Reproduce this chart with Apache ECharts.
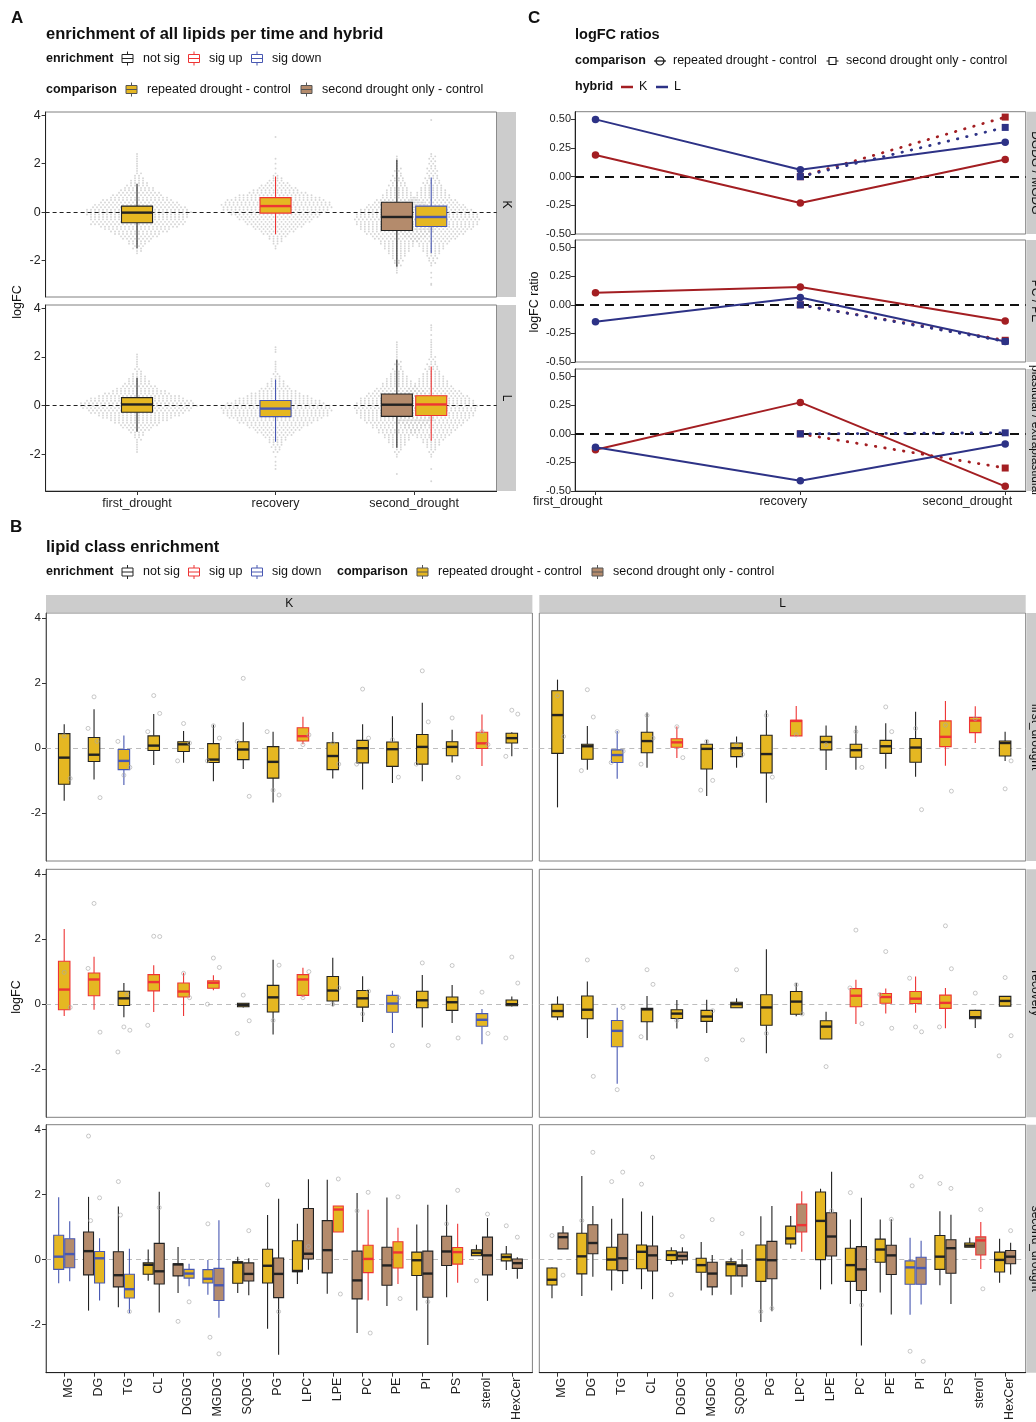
<!DOCTYPE html>
<html lang="en">
<head>
<meta charset="UTF-8">
<title>lipid enrichment</title>
<script src="https://cdn.jsdelivr.net/npm/echarts@6/dist/echarts.min.js"></script>
<style>
  html, body { margin: 0; padding: 0; background: #fff; }
  #main { width: 1036px; height: 1422px; }
</style>
</head>
<body>
<div id="main"></div>
<script>
var FONT = '"Liberation Sans", Arial, Helvetica, sans-serif';
var YELLOW = '#E5B722', BROWN = '#B48B6C';
var SIG_COL = ['#222222', '#EE3434', '#4858B2'];   // not sig, sig up, sig down
var COMP_COL = [YELLOW, BROWN];                      // repeated drought, second drought only
var K_COL = '#A31E22', L_COL = '#2D3286';
var STRIP = '#CCCCCC', BORDER = '#808080';

// ---------------- panel A ----------------
var timePoints = ['first_drought', 'recovery', 'second_drought'];
// [low whisker, Q1, median, Q3, high whisker]
var aK_rep = [[-1.49, -0.44, -0.02, 0.25, 1.17], [-0.91, -0.04, 0.25, 0.60, 1.47], [-1.69, -0.59, -0.20, 0.25, 1.43]];
var aK_rep_sig = [0, 1, 2];
var aK_only = [-2.25, -0.76, -0.20, 0.41, 2.16];
var aK_only_sig = 0;
var aL_rep = [[-1.07, -0.27, 0.05, 0.33, 1.15], [-1.48, -0.45, -0.12, 0.21, 1.07], [-1.44, -0.40, 0.05, 0.41, 1.61]];
var aL_rep_sig = [0, 2, 1];
var aL_only = [-1.73, -0.44, 0.04, 0.48, 1.88];
var aL_only_sig = 0;

// beeswarm: [first bin, points per 0.1 logFC row, single points]
var swK_first = [-1.7, [1,2,3,3,5,6,8,10,12,15, 17,20,24,24,24,25,26,27,26,24, 22,20,18,15,13,11,9,8,6,5, 4,3,2,2,1,1,1,1,1,1,1,1], []];
var swK_recov = [-1.5, [1,1,2,3,4,5,7,9,11,13, 15,17,19,21,23,25,27,28,28,27, 25,22,19,15,12,10,8,6,4,3, 2,1], [1.8, 2.0, 2.2, 3.1]];
var swK_second = [-2.2, [1,2,2,3,3,4,5,6,7,8, 10,12,14,16,18,20,22,23,24,24, 24,23,22,20,18,16,14,12,10,9, 8,7,6,5,5,4,4,3,3,3, 3,2,2,2,2,2,1], [-3.0, -2.95, -2.7, -2.5, 3.8]];
var swK_only = [-2.5, [1,1,1,2,2,3,3,4,5,6, 7,8,9,10,12,14,16,18,19,20, 21,22,22,22,21,20,19,17,15,13, 11,9,8,7,6,5,5,4,4,3, 3,2,2,2,1,1,1,1,1], []];
var swL_first = [-1.9, [1,1,1,1,1,2,2,3,4,6, 8,10,12,15,18,21,24,26,28,30, 29,27,24,21,17,14,11,9,7,6, 5,4,3,2,2,1,1,1,1,1,1], []];
var swL_recov = [-1.9, [2,2,3,3,4,5,6,8,10,12, 14,16,19,21,24,26,27,28,28,27, 25,22,19,16,13,10,8,6,5,4, 3,2,2,1,1,1,1,1], [-2.6, -2.45, -2.3, -2.1, 2.2, 2.3, 2.4]];
var swL_second = [-2.1, [1,1,2,2,3,4,5,6,8,9, 11,12,14,15,17,18,20,21,22,22, 23,23,22,21,20,18,16,14,12,10, 9,8,7,6,5,4,4,3,3,2, 2,2,1,1,1,1,1,1,1], [-3.1, -2.6, 2.9, 3.1, 3.2, 3.3]];
var swL_only = [-2.1, [1,1,2,2,3,4,5,6,7,8, 10,11,13,14,16,18,19,20,21,22, 22,22,21,20,19,17,15,13,11,9, 8,7,6,5,4,3,3,2,2,2, 1,1,1,1,1,1,1,1], [-2.8]];

// ---------------- panel C ----------------
var ratioPanels = ['DGDG / MGDG', 'PC / PE', 'plastidial / extraplastidial'];
var cDG_K = [0.19, -0.23, 0.15], cDG_L = [0.50, 0.06, 0.30];
var cDG_K_only = [0, 0.52], cDG_L_only = [0, 0.43];
var cPC_K = [0.106, 0.156, -0.141], cPC_L = [-0.147, 0.065, -0.32];
var cPC_K_only = [0, -0.31], cPC_L_only = [0, -0.32];
var cPl_K = [-0.139, 0.275, -0.459], cPl_L = [-0.118, -0.411, -0.089];
var cPl_K_only = [0, -0.299], cPl_L_only = [0, 0.009];

// ---------------- panel B ----------------
var lipidClasses = ['MG','DG','TG','CL','DGDG','MGDG','SQDG','PG','LPC','LPE','PC','PE','PI','PS','sterol','HexCer'];
var b1K = [[-1.63,-1.12,-0.30,0.44,0.73],[-0.97,-0.42,-0.21,0.32,1.19],[-1.14,-0.67,-0.40,-0.05,0.38],[-0.53,-0.08,0.07,0.37,1.04],
  [-0.46,-0.11,0.11,0.19,0.52],[-1.03,-0.45,-0.36,0.13,0.71],[-0.65,-0.36,-0.05,0.19,0.79],[-1.68,-0.93,-0.43,0.04,0.50],
  [0.11,0.21,0.36,0.62,0.96],[-0.94,-0.67,-0.25,0.16,0.49],[-1.28,-0.46,-0.01,0.23,0.73],[-1.08,-0.57,-0.04,0.18,0.97],
  [-1.03,-0.50,0.03,0.41,1.39],[-0.45,-0.24,0.03,0.19,0.56],[-0.56,-0.02,0.14,0.48,1.03],[-0.26,0.15,0.30,0.45,0.48]];
var b1K_sig = [0,0,2,0,0,0,0,0,1,0,0,0,0,0,1,0];
var b1L = [[-1.83,-0.17,1.01,1.76,2.10],[-0.67,-0.35,0.05,0.11,0.67],[-0.95,-0.45,-0.22,-0.06,0.52],[-0.61,-0.15,0.21,0.48,1.09],
  [-0.31,0.02,0.17,0.28,0.66],[-1.48,-0.65,-0.03,0.11,0.24],[-0.61,-0.27,-0.01,0.15,0.35],[-1.69,-0.77,-0.19,0.39,1.16],
  [0.37,0.37,0.83,0.85,1.29],[-0.68,-0.06,0.18,0.36,0.69],[-0.67,-0.29,-0.07,0.11,0.68],[-0.64,-0.17,0.05,0.23,0.76],
  [-0.89,-0.44,0.01,0.29,1.11],[-0.55,0.04,0.34,0.83,1.44],[0.15,0.47,0.84,0.94,1.28],[-0.40,-0.25,0.15,0.21,0.50]];
var b1L_sig = [0,0,2,0,1,0,0,0,1,0,0,0,0,1,1,0];
var b2K = [[-0.36,-0.17,0.45,1.32,2.31],[-0.17,0.26,0.76,0.96,1.46],[-0.40,-0.04,0.18,0.40,0.65],[-0.24,0.41,0.68,0.91,1.20],
  [-0.36,0.22,0.39,0.65,0.97],[0.43,0.49,0.66,0.72,0.89],[-0.10,-0.08,-0.02,0.03,0.03],[-0.93,-0.24,0.21,0.58,1.37],
  [0.21,0.27,0.76,0.91,1.12],[-0.06,0.10,0.42,0.85,1.43],[-0.55,-0.09,0.18,0.42,0.86],[-0.89,-0.25,0.02,0.27,0.41],
  [-0.72,-0.11,0.12,0.40,0.90],[-0.58,-0.19,0.06,0.22,0.59],[-1.23,-0.68,-0.48,-0.29,-0.15],[-0.07,-0.05,0.00,0.13,0.24]];
var b2K_sig = [1,1,0,1,1,1,0,0,1,0,0,2,0,0,2,0];
var b2L = [[-0.49,-0.39,-0.21,0.00,0.24],[-1.04,-0.45,-0.17,0.25,0.70],[-2.45,-1.31,-0.82,-0.50,-0.11],[-1.11,-0.54,-0.16,-0.13,0.25],
  [-0.75,-0.44,-0.29,-0.17,0.13],[-0.89,-0.53,-0.38,-0.19,0.14],[-0.11,-0.11,0.00,0.06,0.18],[-1.51,-0.65,-0.10,0.29,1.69],
  [-0.37,-0.31,0.08,0.39,0.65],[-1.07,-1.07,-0.69,-0.51,-0.23],[-0.61,-0.08,0.26,0.48,0.75],[-0.29,0.03,0.22,0.33,0.48],
  [-0.26,0.02,0.17,0.39,0.85],[-0.74,-0.13,0.04,0.28,0.50],[-0.73,-0.45,-0.40,-0.19,-0.17],[-0.06,-0.06,0.10,0.24,0.24]];
var b2L_sig = [0,0,2,0,0,0,0,0,0,0,1,1,1,1,0,0];
var b3K_rep = [[-0.73,-0.30,0.09,0.75,1.92],[-1.26,-0.72,0.04,0.25,0.66],[-1.64,-1.18,-0.91,-0.45,0.33],[-0.65,-0.45,-0.16,-0.10,0.31],
  [-0.82,-0.57,-0.43,-0.30,-0.13],[-1.08,-0.72,-0.59,-0.31,-0.01],[-1.03,-0.73,-0.09,-0.07,0.09],[-2.13,-0.72,-0.19,0.32,1.37],
  [-0.75,-0.37,-0.35,0.58,1.10],[0.85,0.85,1.54,1.65,1.65],[-1.26,-0.40,0.02,0.44,1.53],[-0.75,-0.26,0.22,0.55,0.98],
  [-1.57,-0.49,-0.02,0.23,1.08],[-0.71,-0.14,0.23,0.37,1.10],[0.12,0.12,0.21,0.30,0.46],[-0.32,-0.04,0.08,0.17,0.42]];
var b3K_rep_sig = [2,2,2,0,2,2,0,0,0,1,1,1,0,1,0,0];
var b3K_only = [[-0.67,-0.25,0.17,0.64,1.18],[-1.57,-0.47,0.26,0.85,1.93],[-1.47,-0.84,-0.48,0.24,1.63],[-1.63,-0.75,-0.36,0.50,2.09],
  [-1.03,-0.50,-0.15,-0.13,0.39],[-1.79,-1.26,-0.79,-0.27,1.21],[-1.10,-0.66,-0.44,-0.10,0.04],[-2.93,-1.17,-0.44,0.05,1.87],
  [-0.31,0.02,0.18,1.57,2.47],[-1.05,-0.41,0.29,1.20,2.46],[-2.26,-1.21,-0.64,0.26,2.05],[-1.43,-0.79,-0.18,0.38,1.91],
  [-2.63,-1.16,-0.43,0.26,1.69],[-1.16,-0.18,0.25,0.72,1.69],[-1.27,-0.47,0.13,0.69,1.28],[-0.59,-0.27,-0.11,0.02,0.07]];
var b3K_only_sig = [2,0,0,0,0,2,0,0,0,0,0,0,0,0,0,0];
var b3L_rep = [[-1.19,-0.78,-0.62,-0.26,-0.24],[-1.12,-0.44,0.10,0.81,2.57],[-0.95,-0.32,0.00,0.38,1.26],[-0.91,-0.28,0.24,0.45,1.48],
  [-0.15,-0.03,0.14,0.27,0.38],[-0.95,-0.39,-0.17,0.04,0.54],[-1.08,-0.50,-0.14,-0.07,0.06],[-1.92,-0.67,0.00,0.45,1.33],
  [0.34,0.48,0.65,1.03,1.34],[-0.92,0.00,1.19,2.08,2.18],[-1.37,-0.67,-0.17,0.35,1.23],[-1.01,-0.08,0.31,0.63,1.23],
  [-1.70,-0.76,-0.24,-0.04,0.67],[-0.79,-0.30,0.09,0.74,1.49],[0.38,0.38,0.43,0.51,0.67],[-0.71,-0.38,-0.01,0.23,0.64]];
var b3L_rep_sig = [0,0,0,0,0,0,0,0,0,0,0,0,2,0,0,0];
var b3L_only = [[0.33,0.33,0.69,0.82,1.03],[-0.53,0.18,0.51,1.07,1.65],[-0.75,-0.34,0.04,0.78,1.89],[-1.22,-0.35,0.13,0.42,1.35],
  [-0.15,-0.01,0.11,0.23,0.38],[-1.10,-0.84,-0.43,-0.08,0.14],[-0.85,-0.50,-0.19,-0.17,0.32],[-1.59,-0.59,-0.02,0.56,1.65],
  [0.24,0.85,1.06,1.71,2.10],[-0.76,0.11,0.71,1.44,2.70],[-2.64,-0.95,-0.30,0.40,1.90],[-1.69,-0.46,0.13,0.44,1.24],
  [-1.38,-0.76,-0.26,0.07,0.58],[-1.37,-0.42,0.35,0.61,1.38],[-0.29,0.14,0.59,0.70,1.16],[-0.46,-0.13,0.09,0.28,0.52]];
var b3L_only_sig = [0,0,0,0,0,0,0,0,1,0,0,0,2,0,1,0];

// individual lipids: [class index, logFC]  (rows 1-2) / [class index, comparison, logFC] (row 3)
var p1K = [[0,0.37],[0,-0.94],[1,1.57],[1,-1.53],[1,0.6],[1,0.2],[2,-0.84],[2,-0.6],[2,0.2],[3,1.61],[3,1.06],[3,0.5],[4,0.75],[4,0.15],[4,-0.4],
  [5,0.68],[5,0.3],[5,-0.4],[6,2.14],[6,-1.49],[6,0.2],[7,-1.3],[7,-1.45],[7,0.5],[8,0.1],[8,0.4],[9,0.15],[9,-0.5],[10,1.81],[10,0.3],[10,-0.5],
  [11,0.25],[11,-0.9],[12,2.37],[12,0.8],[12,-0.5],[13,0.92],[13,-0.91],[14,0.5],[14,0.1],[15,1.16],[15,1.04],[15,-0.26]];
var p1L = [[0,1.6],[0,0.35],[1,1.79],[1,0.95],[1,-0.7],[2,0.5],[2,-0.1],[2,-0.45],[3,1.0],[3,0.3],[3,-0.5],[4,0.65],[4,-0.3],[5,0.2],[5,-1.0],
  [5,-1.3],[6,0.1],[6,-0.2],[7,1.0],[7,-0.9],[8,0.4],[9,0.1],[10,0.5],[10,-0.6],[11,1.26],[11,0.5],[12,0.6],[12,-1.9],[13,0.7],[13,-1.33],
  [14,0.9],[15,-1.26],[15,-0.4]];
var p2K = [[0,0.98],[0,-0.1],[1,3.1],[1,-0.86],[1,1.1],[2,-0.7],[2,-0.8],[2,-1.47],[2,0.3],[3,2.09],[3,2.08],[3,-0.65],[4,0.95],[4,0.2],
  [5,1.42],[5,1.13],[5,0.0],[6,0.28],[6,-0.51],[6,-0.9],[7,-0.5],[7,1.2],[8,0.2],[8,1.0],[9,0.0],[9,0.5],[10,-0.3],[10,0.4],[11,-1.27],[11,0.2],
  [12,1.27],[12,-1.27],[13,1.19],[13,-1.04],[14,0.37],[14,-0.9],[15,1.45],[15,0.65],[15,-1.04]];
var p2L = [[1,1.36],[1,-2.22],[2,-2.63],[2,-0.1],[3,1.06],[3,0.61],[3,-1.0],[4,-0.5],[5,-1.7],[5,-0.2],[6,1.06],[6,-1.1],[7,-0.9],[8,0.6],
  [8,-0.3],[9,-1.92],[10,2.28],[10,-0.6],[10,0.5],[11,1.62],[11,-0.74],[11,0.3],[12,-0.7],[12,-0.85],[12,0.8],[13,2.41],[13,1.09],[13,-0.7],
  [14,0.34],[15,0.82],[15,-0.97],[15,-1.59]];
var p3K = [[1,1,3.8],[1,0,1.9],[1,1,1.2],[2,1,2.4],[2,1,1.37],[2,0,-1.6],[3,1,1.6],[4,1,-1.9],[4,0,-1.3],[5,0,1.1],[5,0,-2.39],[5,1,-2.9],
  [6,1,0.89],[7,0,2.3],[7,1,-1.6],[8,1,0.4],[9,0,2.48],[9,0,-1.06],[10,0,2.07],[10,0,-2.26],[10,1,1.5],[11,0,1.93],[11,0,-1.2],[12,1,-1.3],
  [13,0,2.13],[13,1,1.1],[14,0,-0.65],[14,1,1.4],[15,0,1.04],[15,1,0.69]];
var p3L = [[0,0,0.74],[0,1,-0.48],[1,1,3.3],[1,0,1.2],[2,0,2.4],[2,1,2.69],[3,0,2.32],[3,1,3.15],[4,1,0.71],[4,0,-1.08],[5,1,1.23],[6,1,0.8],
  [7,0,-1.6],[7,1,-1.5],[9,1,1.5],[10,0,2.06],[10,1,-1.4],[11,1,1.24],[12,0,-2.82],[12,0,2.27],[12,1,2.55],[12,1,-3.13],[13,0,2.34],
  [13,1,2.19],[14,1,1.54],[14,1,-0.9],[15,1,0.89]];

// ================= building =================
var grids = [], xAxes = [], yAxes = [], series = [], graphics = [];

function addGrid(l, t, w, h) {
  grids.push({left: l, top: t, width: w, height: h, show: true, borderColor: BORDER, borderWidth: 1,
    backgroundColor: '#fff', containLabel: false, outerBoundsMode: 'none'});
  return grids.length - 1;
}
function valAxis(gi, min, max, ticks, labels, fmt, o) {
  o = o || {};
  var show = !!labels;
  var lab = {show: show, fontSize: o.size || 12, color: '#222', fontFamily: FONT, margin: o.margin || 5, formatter: fmt};
  if (labels) lab.customValues = labels;
  if (o.rotate) lab.rotate = o.rotate;
  if (o.align) lab.align = o.align;
  return {gridIndex: gi, type: 'value', min: min, max: max, splitLine: {show: false},
    axisLine: {show: show || !!o.line, onZero: false, lineStyle: {color: o.lineColor || '#222', width: 1}},
    axisTick: {show: show, customValues: ticks, length: 4, lineStyle: {color: '#333'}},
    axisLabel: lab};
}
function zeroLine(color, width, dash, z) {
  return {silent: true, symbol: ['none', 'none'], z: z, label: {show: false}, emphasis: {disabled: true},
    lineStyle: {color: color, width: width, type: dash}, data: [{yAxis: 0}], animation: false};
}
function boxRender(params, api) {
  var x = api.value(0);
  var lo = api.coord([x, api.value(1)]), q1 = api.coord([x, api.value(2)]), md = api.coord([x, api.value(3)]);
  var q3 = api.coord([x, api.value(4)]), hi = api.coord([x, api.value(5)]);
  var stroke = SIG_COL[api.value(6)], fill = COMP_COL[api.value(7)];
  var w = api.size([api.value(8), 0])[0];
  var cx = lo[0];
  return {type: 'group', children: [
    {type: 'line', shape: {x1: cx, y1: hi[1], x2: cx, y2: q3[1]}, style: {stroke: stroke, lineWidth: 1.1}},
    {type: 'line', shape: {x1: cx, y1: q1[1], x2: cx, y2: lo[1]}, style: {stroke: stroke, lineWidth: 1.1}},
    {type: 'rect', shape: {x: cx - w / 2, y: q3[1], width: w, height: Math.max(q1[1] - q3[1], 1)},
      style: {fill: fill, stroke: stroke, lineWidth: 1.1}},
    {type: 'line', shape: {x1: cx - w / 2, y1: md[1], x2: cx + w / 2, y2: md[1]}, style: {stroke: stroke, lineWidth: 2.4}}
  ]};
}
function boxSeries(gi, data) {
  return {type: 'custom', xAxisIndex: gi, yAxisIndex: gi, z: 3, silent: true, renderItem: boxRender,
    encode: {x: 0, y: [1, 2, 3, 4, 5]}, data: data};
}
// rep box goes left when its (enrichment, comparison) sorts first
function repSide(sigRep, sigOnly) { return sigRep <= sigOnly ? -1 : 1; }

function swarm(out, cx, sw, pitch) {
  var from = sw[0], counts = sw[1];
  counts.forEach(function (n, i) {
    var v = +(from + i * 0.1).toFixed(2);
    var shift = (n > 1 && i % 2) ? pitch / 2 : 0;
    for (var j = 0; j < n; j++) out.push([cx + (j - (n - 1) / 2) * pitch + shift, v]);
  });
  sw[2].forEach(function (v) { out.push([cx, v]); });
}

// ---- panel A grids ----
var A_DODGE = 0.124, A_BOXW = 0.224, A_PITCH = 4.0 / 138.5;
var aDefs = [
  {top: 112, h: 185, rep: aK_rep, repSig: aK_rep_sig, only: aK_only, onlySig: aK_only_sig, sw: [swK_first, swK_recov, swK_second], swOnly: swK_only},
  {top: 305, h: 186, rep: aL_rep, repSig: aL_rep_sig, only: aL_only, onlySig: aL_only_sig, sw: [swL_first, swL_recov, swL_second], swOnly: swL_only}
];
aDefs.forEach(function (d, k) {
  var gi = addGrid(45.6, d.top, 451, d.h);
  var bottom = k === 1;
  xAxes.push(valAxis(gi, 0.34, 3.596, [1, 2, 3], bottom ? [1, 2, 3] : null,
    function (v) { return timePoints[Math.round(v) - 1]; }, {size: 12.5, margin: 6}));
  yAxes.push(valAxis(gi, -3.5, 4.13, [-2, 0, 2, 4], [-2, 0, 2, 4], null, {size: 12.5}));
  var side = repSide(d.repSig[2], d.onlySig);
  var boxes = [], dots = [];
  for (var t = 0; t < 3; t++) {
    var x = t + 1 + (t === 2 ? side * A_DODGE : 0);
    boxes.push([x].concat(d.rep[t], [d.repSig[t], 0, A_BOXW]));
    swarm(dots, x, d.sw[t], A_PITCH);
  }
  var xo = 3 - side * A_DODGE;
  boxes.push([xo].concat(d.only, [d.onlySig, 1, A_BOXW]));
  swarm(dots, xo, d.swOnly, A_PITCH);
  series.push({type: 'scatter', xAxisIndex: gi, yAxisIndex: gi, z: 1, silent: true, symbolSize: 1.9,
    progressive: 0, itemStyle: {color: '#CACACA'}, data: dots,
    markLine: zeroLine('#222', 1, [4, 3], 2)});
  series.push(boxSeries(gi, boxes));
});

// ---- panel C grids ----
var cDefs = [
  {top: 111.7, h: 122.3, K: cDG_K, L: cDG_L, Ko: cDG_K_only, Lo: cDG_L_only},
  {top: 240, h: 122, K: cPC_K, L: cPC_L, Ko: cPC_K_only, Lo: cPC_L_only},
  {top: 369, h: 122, K: cPl_K, L: cPl_L, Ko: cPl_K_only, Lo: cPl_L_only}
];
cDefs.forEach(function (d, k) {
  var gi = addGrid(575, d.top, 450.7, d.h);
  var bottom = k === 2;
  xAxes.push(valAxis(gi, 0.9, 3.1, [1, 2, 3], bottom ? [1.034, 2.034, 3.034] : null,
    function (v) { return timePoints[Math.round(v) - 1]; }, {size: 12.5, margin: 4, align: 'right'}));
  yAxes.push(valAxis(gi, -0.5, 0.567, [-0.5, -0.25, 0, 0.25, 0.5], [-0.5, -0.25, 0, 0.25, 0.5],
    function (v) { return v.toFixed(2); }, {size: 11, margin: 4}));
  [[d.Ko, K_COL], [d.Lo, L_COL]].forEach(function (s, i) {
    var o = {type: 'line', xAxisIndex: gi, yAxisIndex: gi, z: 2, silent: true, animation: false,
      data: s[0].map(function (v, j) { return [j + 2, v]; }),
      symbol: 'rect', symbolSize: 7, itemStyle: {color: s[1]},
      lineStyle: {color: s[1], width: 2.8, type: [0.5, 9], cap: 'round'}};
    if (i === 0) o.markLine = zeroLine('#111', 2, [9, 6], 1);
    series.push(o);
  });
  [[d.K, K_COL], [d.L, L_COL]].forEach(function (s) {
    series.push({type: 'line', xAxisIndex: gi, yAxisIndex: gi, z: 3, silent: true, animation: false,
      data: s[0].map(function (v, j) { return [j + 1, v]; }),
      symbol: 'circle', symbolSize: 7.5, itemStyle: {color: s[1]},
      lineStyle: {color: s[1], width: 2}});
  });
});

// ---- panel B grids ----
var B_TOPS = [613, 869.3, 1124.7], B_LEFTS = [46, 539.3];
var B_SINGLE_W = 0.385, B_DODGE = 0.185, B_PAIR_W = 0.335;
var JIT_WIDE = [0, 0.2, -0.2, 0.1, -0.1, 0.28, -0.28];
var JIT_NARROW = [0, 0.07, -0.07, 0.04, -0.04];
var bDefs = [
  [{v: b1K, s: b1K_sig, p: p1K}, {v: b1L, s: b1L_sig, p: p1L}],
  [{v: b2K, s: b2K_sig, p: p2K}, {v: b2L, s: b2L_sig, p: p2L}],
  [{v: b3K_rep, s: b3K_rep_sig, vo: b3K_only, so: b3K_only_sig, p: p3K},
   {v: b3L_rep, s: b3L_rep_sig, vo: b3L_only, so: b3L_only_sig, p: p3L}]
];
var catTicks = lipidClasses.map(function (c, i) { return i + 1; });
var catLabels = lipidClasses.map(function (c, i) { return i + 1.15; });
bDefs.forEach(function (row, r) {
  row.forEach(function (d, h) {
    var gi = addGrid(B_LEFTS[h], B_TOPS[r], 486.4, 248);
    var bottom = r === 2;
    xAxes.push(valAxis(gi, 0.39, 16.69, catTicks, bottom ? catLabels : null,
      function (v) { return lipidClasses[Math.round(v) - 1]; }, {size: 12.5, rotate: 90, margin: 5}));
    yAxes.push(valAxis(gi, -3.48, 4.15, [-2, 0, 2, 4], h === 0 ? [-2, 0, 2, 4] : null, null,
      {size: 11.5, lineColor: '#555'}));
    var boxes = [], pts = [], seen = {};
    d.v.forEach(function (vals, i) {
      if (!d.vo) {
        boxes.push([i + 1].concat(vals, [d.s[i], 0, B_SINGLE_W]));
      } else {
        var side = repSide(d.s[i], d.so[i]);
        boxes.push([i + 1 + side * B_DODGE].concat(vals, [d.s[i], 0, B_PAIR_W]));
        boxes.push([i + 1 - side * B_DODGE].concat(d.vo[i], [d.so[i], 1, B_PAIR_W]));
      }
    });
    d.p.forEach(function (pt) {
      var cat = pt[0], x = cat + 1, v, key, jit;
      if (pt.length === 3) {
        var sd = repSide(d.s[cat], d.so[cat]);
        x += (pt[1] === 0 ? sd : -sd) * B_DODGE;
        v = pt[2]; key = cat + '_' + pt[1]; jit = JIT_NARROW;
      } else { v = pt[1]; key = cat; jit = JIT_WIDE; }
      seen[key] = (seen[key] || 0) + 1;
      pts.push([x + jit[(seen[key] - 1) % jit.length], v]);
    });
    series.push({type: 'line', xAxisIndex: gi, yAxisIndex: gi, z: 1, silent: true, data: [],
      markLine: zeroLine('#BDBDBD', 1, [5, 4], 1)});
    series.push(boxSeries(gi, boxes));
    series.push({type: 'scatter', xAxisIndex: gi, yAxisIndex: gi, z: 4, silent: true, symbol: 'circle',
      symbolSize: 4, itemStyle: {color: 'rgba(0,0,0,0)', borderColor: '#A8A8A8', borderWidth: 0.8}, data: pts});
  });
});

// ================= decorations =================
function txt(x, y, s, o) {
  o = o || {};
  return {type: 'text', x: x, y: y, rotation: o.rot || 0, silent: true, z: 100,
    style: {text: s, fontFamily: FONT, fontSize: o.size || 12.5, fontWeight: o.bold ? 'bold' : 'normal',
      fill: o.color || '#111', align: o.align || 'left', verticalAlign: 'middle'}};
}
function rect(x, y, w, h, fill) {
  return {type: 'rect', silent: true, z: 50, shape: {x: x, y: y, width: w, height: h}, style: {fill: fill}};
}
function boxIcon(x, y, stroke, fill) {
  return {type: 'group', x: x, y: y, silent: true, z: 100, children: [
    {type: 'line', shape: {x1: 6, y1: -7, x2: 6, y2: -4}, style: {stroke: stroke, lineWidth: 1}},
    {type: 'rect', shape: {x: 0.5, y: -4, width: 11, height: 8}, style: {fill: fill, stroke: stroke, lineWidth: 1}},
    {type: 'line', shape: {x1: 0.5, y1: 0, x2: 11.5, y2: 0}, style: {stroke: stroke, lineWidth: 1}},
    {type: 'line', shape: {x1: 6, y1: 4, x2: 6, y2: 7}, style: {stroke: stroke, lineWidth: 1}}
  ]};
}
function enrichLegend(y) {
  graphics.push(txt(46, y, 'enrichment', {bold: true}));
  graphics.push(boxIcon(121.5, y, SIG_COL[0], '#fff'), txt(143, y, 'not sig'));
  graphics.push(boxIcon(188, y, SIG_COL[1], '#fff'), txt(209, y, 'sig up'));
  graphics.push(boxIcon(251, y, SIG_COL[2], '#fff'), txt(272, y, 'sig down'));
}
function compLegend(x0, y) {
  graphics.push(txt(x0, y, 'comparison', {bold: true}));
  graphics.push(boxIcon(x0 + 79.5, y, '#555', YELLOW), txt(x0 + 101, y, 'repeated drought - control'));
  graphics.push(boxIcon(x0 + 254.5, y, '#555', BROWN), txt(x0 + 276, y, 'second drought only - control'));
}

// panel letters and titles
graphics.push(txt(11, 18.5, 'A', {bold: true, size: 17}));
graphics.push(txt(528, 18.5, 'C', {bold: true, size: 17}));
graphics.push(txt(10, 527, 'B', {bold: true, size: 17}));
graphics.push(txt(46, 34, 'enrichment of all lipids per time and hybrid', {bold: true, size: 16.5}));
graphics.push(txt(575, 35, 'logFC ratios', {bold: true, size: 14.5}));
graphics.push(txt(46, 547, 'lipid class enrichment', {bold: true, size: 16.5}));

// legends
enrichLegend(58.5);
compLegend(46, 89.5);
enrichLegend(572);
compLegend(337, 572);

graphics.push(txt(575, 61, 'comparison', {bold: true}));
graphics.push({type: 'group', x: 660, y: 61, silent: true, z: 100, children: [
  {type: 'line', shape: {x1: -6, y1: 0, x2: 6, y2: 0}, style: {stroke: '#111', lineWidth: 1.2}},
  {type: 'circle', shape: {cx: 0, cy: 0, r: 4}, style: {fill: 'none', stroke: '#111', lineWidth: 1.2}}
]});
graphics.push(txt(673, 61, 'repeated drought - control'));
graphics.push({type: 'group', x: 832.5, y: 61, silent: true, z: 100, children: [
  {type: 'line', shape: {x1: -6, y1: 0, x2: -3.5, y2: 0}, style: {stroke: '#111', lineWidth: 1}},
  {type: 'rect', shape: {x: -3.5, y: -3.5, width: 7, height: 7}, style: {fill: '#fff', stroke: '#111', lineWidth: 1.1}},
  {type: 'line', shape: {x1: 3.5, y1: 0, x2: 6, y2: 0}, style: {stroke: '#111', lineWidth: 1}}
]});
graphics.push(txt(846, 61, 'second drought only - control'));
graphics.push(txt(575, 87, 'hybrid', {bold: true}));
graphics.push({type: 'line', silent: true, z: 100, shape: {x1: 621, y1: 87, x2: 633, y2: 87}, style: {stroke: K_COL, lineWidth: 2.5}});
graphics.push(txt(639, 87, 'K'));
graphics.push({type: 'line', silent: true, z: 100, shape: {x1: 656, y1: 87, x2: 668, y2: 87}, style: {stroke: L_COL, lineWidth: 2.5}});
graphics.push(txt(674, 87, 'L'));

// y axis titles
graphics.push(txt(18, 302, 'logFC', {rot: Math.PI / 2, align: 'center'}));
graphics.push(txt(535, 302, 'logFC ratio', {rot: Math.PI / 2, align: 'center'}));
graphics.push(txt(17, 997, 'logFC', {rot: Math.PI / 2, align: 'center'}));

// facet strips
[['K', 112, 185], ['L', 305, 186]].forEach(function (s) {
  graphics.push(rect(497, s[1], 19, s[2], STRIP));
  graphics.push(txt(506, s[1] + s[2] / 2, s[0], {rot: -Math.PI / 2, align: 'center', size: 12}));
});
cDefs.forEach(function (d, k) {
  graphics.push(rect(1026.5, d.top, 20, d.h, STRIP));
  graphics.push(txt(1035, d.top + d.h / 2, ratioPanels[k], {rot: -Math.PI / 2, align: 'center', size: 12}));
});
['K', 'L'].forEach(function (hy, h) {
  graphics.push(rect(B_LEFTS[h], 595, 486.4, 17, STRIP));
  graphics.push(txt(B_LEFTS[h] + 243.2, 604, hy, {align: 'center', size: 12}));
});
timePoints.forEach(function (tp, r) {
  graphics.push(rect(1026.5, B_TOPS[r], 20, 248, STRIP));
  graphics.push(txt(1035, B_TOPS[r] + 124, tp, {rot: -Math.PI / 2, align: 'center', size: 12}));
});

var chart = echarts.init(document.getElementById('main'));
chart.setOption({
  backgroundColor: '#fff',
  animation: false,
  grid: grids,
  xAxis: xAxes,
  yAxis: yAxes,
  series: series,
  graphic: {elements: graphics}
});
</script>
</body>
</html>
